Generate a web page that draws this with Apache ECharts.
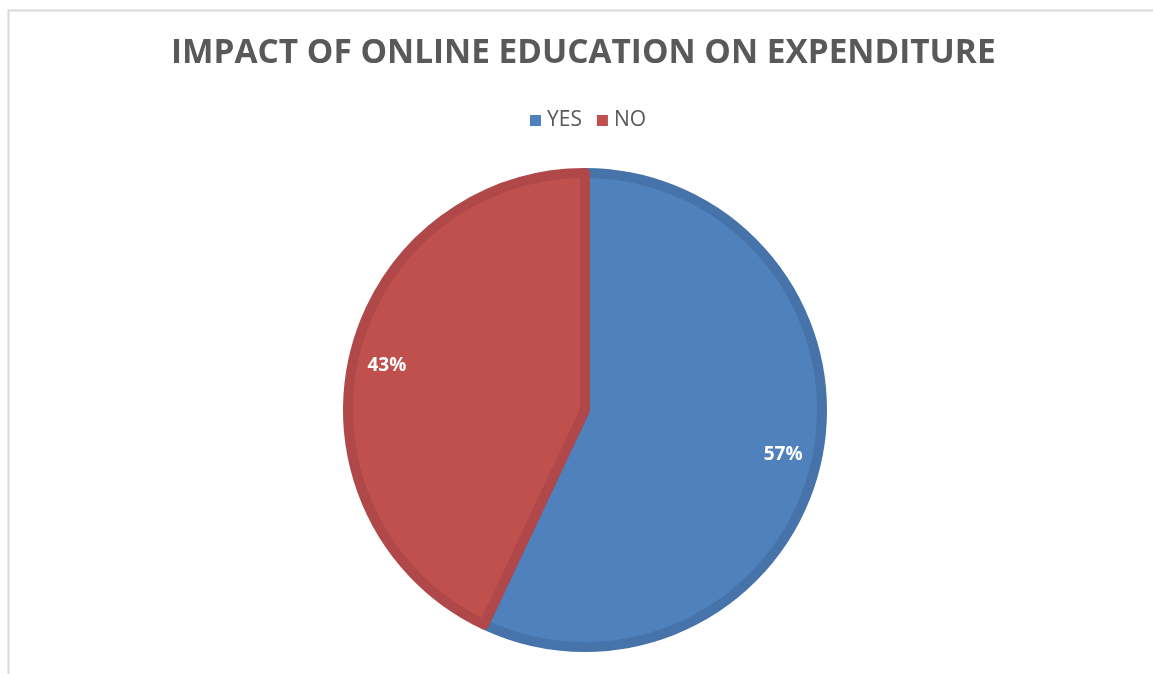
<!DOCTYPE html>
<html>
<head>
<meta charset="utf-8">
<title>Impact of Online Education on Expenditure</title>
<script src="https://cdn.jsdelivr.net/npm/echarts@6/dist/echarts.min.js"></script>
<style>
  html, body { margin: 0; padding: 0; background: #ffffff; }
  #chart { width: 1153px; height: 674px; }
</style>
</head>
<body>
<div id="chart"></div>
<script>
// Survey answers and their shares (percent)
const categories = ['YES', 'NO'];
const shares = [57, 43];
const fillColors = ['#4f81bd', '#c0504d'];
const edgeColors = ['#4573aa', '#b0484a'];

const chart = echarts.init(document.getElementById('chart'));

const sliceData = categories.map((name, i) => ({
  name: name,
  value: shares[i],
  itemStyle: { color: fillColors[i], borderColor: edgeColors[i] }
}));

const labelData = categories.map((name, i) => ({ name: name, value: shares[i] }));

chart.setOption({
  animation: false,
  backgroundColor: '#ffffff',
  title: {
    text: 'IMPACT OF ONLINE EDUCATION ON EXPENDITURE',
    left: 166,
    top: 32,
    textStyle: {
      fontFamily: 'Open Sans',
      fontWeight: 'bold',
      fontSize: 33.4,
      color: '#595959'
    }
  },
  legend: {
    data: categories,
    top: 105,
    left: 525,
    itemWidth: 11,
    itemHeight: 11,
    itemGap: 15,
    icon: 'rect',
    selectedMode: false,
    itemStyle: { borderWidth: 0 },
    textStyle: { fontFamily: 'Open Sans', fontSize: 21, color: '#595959', padding: [0, 0, 0, 1] }
  },
  graphic: [{
    type: 'rect',
    silent: true,
    shape: { x: 8.5, y: 10.5, width: 1200, height: 700 },
    style: { fill: 'none', stroke: '#d9d9d9', lineWidth: 2 }
  }],
  series: [
    {
      name: 'slices',
      type: 'pie',
      center: [585, 410],
      radius: [0, 237],
      startAngle: 90,
      clockwise: true,
      silent: true,
      label: { show: false },
      labelLine: { show: false },
      itemStyle: { borderWidth: 10 },
      data: sliceData
    },
    {
      name: 'labels',
      type: 'pie',
      center: [585, 410],
      radius: [160, 240],
      startAngle: 90,
      clockwise: true,
      silent: true,
      legendHoverLink: false,
      itemStyle: { color: 'rgba(0,0,0,0)' },
      label: {
        show: true,
        position: 'inside',
        formatter: '{c}%',
        fontFamily: 'Open Sans',
        fontWeight: 'bold',
        fontSize: 19,
        color: '#ffffff'
      },
      labelLine: { show: false },
      data: labelData
    }
  ]
});
</script>
</body>
</html>
